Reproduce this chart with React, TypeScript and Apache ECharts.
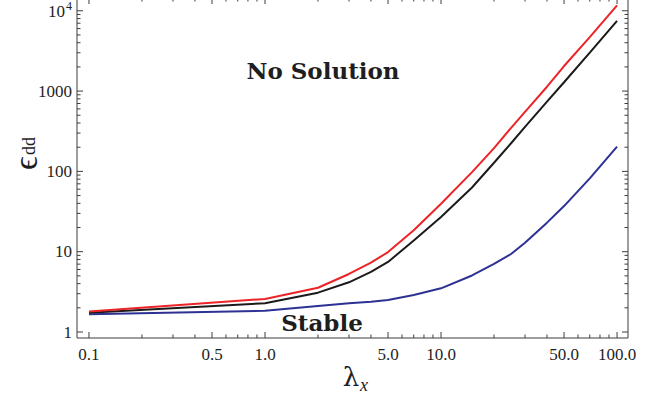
import { useEffect, useRef } from "react";
import * as echarts from "echarts";

// Stability boundary ε_dd(λ_x) for three trap configurations
const lambdaX = [0.1, 1, 2, 3, 4, 5, 7, 10, 15, 20, 25, 30, 40, 50, 70, 100];
const epsRed = [1.8, 2.58, 3.56, 5.28, 7.3, 9.9, 18.5, 39.5, 98, 195, 348, 551, 1133, 2050, 4700, 11700];
const epsBlack = [1.74, 2.28, 3.09, 4.16, 5.6, 7.45, 13.8, 27, 63, 128, 224, 359, 738, 1288, 3006, 7500];
const epsBlue = [1.66, 1.84, 2.11, 2.28, 2.38, 2.5, 2.89, 3.5, 5.06, 7.03, 9.36, 12.9, 23, 37, 82, 203];

// Frame ticks (log scale)
const xMajorTicks = [0.1, 0.5, 1, 5, 10, 50, 100];
const xMajorLabels = ["0.1", "0.5", "1.0", "5.0", "10.0", "50.0", "100.0"];
const xMinorTicks = [0.2, 0.3, 0.4, 0.6, 0.7, 0.8, 0.9, 2, 3, 4, 6, 7, 8, 9, 20, 30, 40, 60, 70, 80, 90];
const yMajorTicks = [1, 10, 100, 1000, 10000];
const yMajorLabels = ["1", "10", "100", "1000", "10^4"];
const yMinorTicks = [
  2, 3, 4, 5, 6, 7, 8, 9,
  20, 30, 40, 50, 60, 70, 80, 90,
  200, 300, 400, 500, 600, 700, 800, 900,
  2000, 3000, 4000, 5000, 6000, 7000, 8000, 9000,
];

// Plot range
const X_EXTENT = [0.0855, 115.4];
const Y_EXTENT = [0.842, 14420];

const SERIF = "Liberation Serif, Times New Roman, serif";
const DEJAVU = "DejaVu Serif, Liberation Serif, serif";
const INK = "#1e1e1e";
const FRAME = "#3c3c3c";

const lg = Math.log10;

export default function App() {
  const ref = useRef<HTMLDivElement>(null);

  useEffect(() => {
    document.body.style.margin = "0";
    if (!ref.current) return;
    const chart = echarts.init(ref.current, null, { renderer: "svg" });

    const xLo = lg(X_EXTENT[0]);
    const xHi = lg(X_EXTENT[1]);
    const yLo = lg(Y_EXTENT[0]);
    const yHi = lg(Y_EXTENT[1]);

    const xTickData = [
      ...xMajorTicks.map((v, i) => [lg(v), yLo, 1, i]),
      ...xMinorTicks.map((v) => [lg(v), yLo, 0, -1]),
    ];
    const yTickData = [
      ...yMajorTicks.map((v, i) => [xLo, lg(v), 1, i]),
      ...yMinorTicks.map((v) => [xLo, lg(v), 0, -1]),
    ];

    const tickStyle = { stroke: FRAME, lineWidth: 1 };
    const labelStyle = { fontSize: 17, fontFamily: SERIF, fill: INK };

    const lineSeries = (data: number[], color: string) => ({
      type: "line",
      data: lambdaX.map((x, i) => [lg(x), lg(data[i])]),
      showSymbol: false,
      lineStyle: { color, width: 2 },
      z: 3,
    });

    chart.setOption({
      animation: false,
      grid: {
        left: 77,
        top: -2,
        width: 551,
        height: 340,
        show: true,
        borderColor: FRAME,
        borderWidth: 1,
        outerBoundsMode: "none",
      },
      xAxis: {
        type: "value",
        min: xLo,
        max: xHi,
        axisLine: { show: false },
        axisTick: { show: false },
        axisLabel: { show: false },
        splitLine: { show: false },
      },
      yAxis: {
        type: "value",
        min: yLo,
        max: yHi,
        axisLine: { show: false },
        axisTick: { show: false },
        axisLabel: { show: false },
        splitLine: { show: false },
      },
      series: [
        {
          type: "custom",
          data: xTickData,
          silent: true,
          z: 2,
          renderItem: (_p: any, api: any) => {
            const v = api.value(0);
            const major = api.value(2) === 1;
            const li = api.value(3);
            const b = api.coord([v, yLo]);
            const t = api.coord([v, yHi]);
            const len = major ? 6 : 3.5;
            const children: any[] = [
              { type: "line", shape: { x1: b[0], y1: b[1], x2: b[0], y2: b[1] - len }, style: tickStyle },
              { type: "line", shape: { x1: t[0], y1: t[1], x2: t[0], y2: t[1] + len }, style: tickStyle },
            ];
            if (li >= 0) {
              children.push({
                type: "text",
                style: {
                  ...labelStyle,
                  text: xMajorLabels[li],
                  x: b[0],
                  y: b[1] + 16,
                  align: "center",
                  verticalAlign: "middle",
                },
              });
            }
            return { type: "group", children };
          },
        },
        {
          type: "custom",
          data: yTickData,
          silent: true,
          z: 2,
          renderItem: (_p: any, api: any) => {
            const v = api.value(1);
            const major = api.value(2) === 1;
            const li = api.value(3);
            const l = api.coord([xLo, v]);
            const r = api.coord([xHi, v]);
            const len = major ? 6 : 3.5;
            const children: any[] = [
              { type: "line", shape: { x1: l[0], y1: l[1], x2: l[0] + len, y2: l[1] }, style: tickStyle },
              { type: "line", shape: { x1: r[0], y1: r[1], x2: r[0] - len, y2: r[1] }, style: tickStyle },
            ];
            if (li >= 0) {
              const label = yMajorLabels[li];
              if (label.includes("^")) {
                const [base, sup] = label.split("^");
                children.push({
                  type: "text",
                  style: { ...labelStyle, text: base, x: l[0] - 12, y: l[1] + 1, align: "right", verticalAlign: "middle" },
                });
                children.push({
                  type: "text",
                  style: { ...labelStyle, fontSize: 12, text: sup, x: l[0] - 11, y: l[1] - 5, align: "left", verticalAlign: "middle" },
                });
              } else {
                children.push({
                  type: "text",
                  style: { ...labelStyle, text: label, x: l[0] - 5, y: l[1], align: "right", verticalAlign: "middle" },
                });
              }
            }
            return { type: "group", children };
          },
        },
        lineSeries(epsBlue, "#2d3194"),
        lineSeries(epsBlack, "#1b1b1b"),
        lineSeries(epsRed, "#ec2327"),
      ],
      graphic: [
        {
          type: "group",
          x: 25,
          y: 154,
          rotation: Math.PI / 2,
          children: [
            {
              type: "text",
              x: -9,
              y: 0,
              style: { text: "ϵ", fontSize: 34, fontFamily: SERIF, fill: INK, align: "center", verticalAlign: "middle" },
            },
            {
              type: "text",
              x: -1,
              y: 4,
              style: { text: "dd", fontSize: 18, fontFamily: SERIF, fill: INK, align: "left", verticalAlign: "middle" },
            },
          ],
        },
        {
          type: "text",
          x: 351,
          y: 377,
          style: { text: "λ", fontSize: 26, fontFamily: DEJAVU, fill: INK, align: "center", verticalAlign: "middle" },
        },
        {
          type: "text",
          x: 360,
          y: 385,
          style: { text: "x", fontSize: 18, fontStyle: "italic", fontFamily: SERIF, fill: INK, align: "left", verticalAlign: "middle" },
        },
        {
          type: "text",
          x: 323,
          y: 70,
          style: { text: "No Solution", fontSize: 23, fontWeight: "bold", fontFamily: DEJAVU, fill: INK, align: "center", verticalAlign: "middle" },
        },
        {
          type: "text",
          x: 322,
          y: 322,
          style: { text: "Stable", fontSize: 23, fontWeight: "bold", fontFamily: DEJAVU, fill: INK, align: "center", verticalAlign: "middle" },
        },
      ],
    });

    return () => chart.dispose();
  }, []);

  return <div ref={ref} style={{ width: 662, height: 394 }} />;
}
